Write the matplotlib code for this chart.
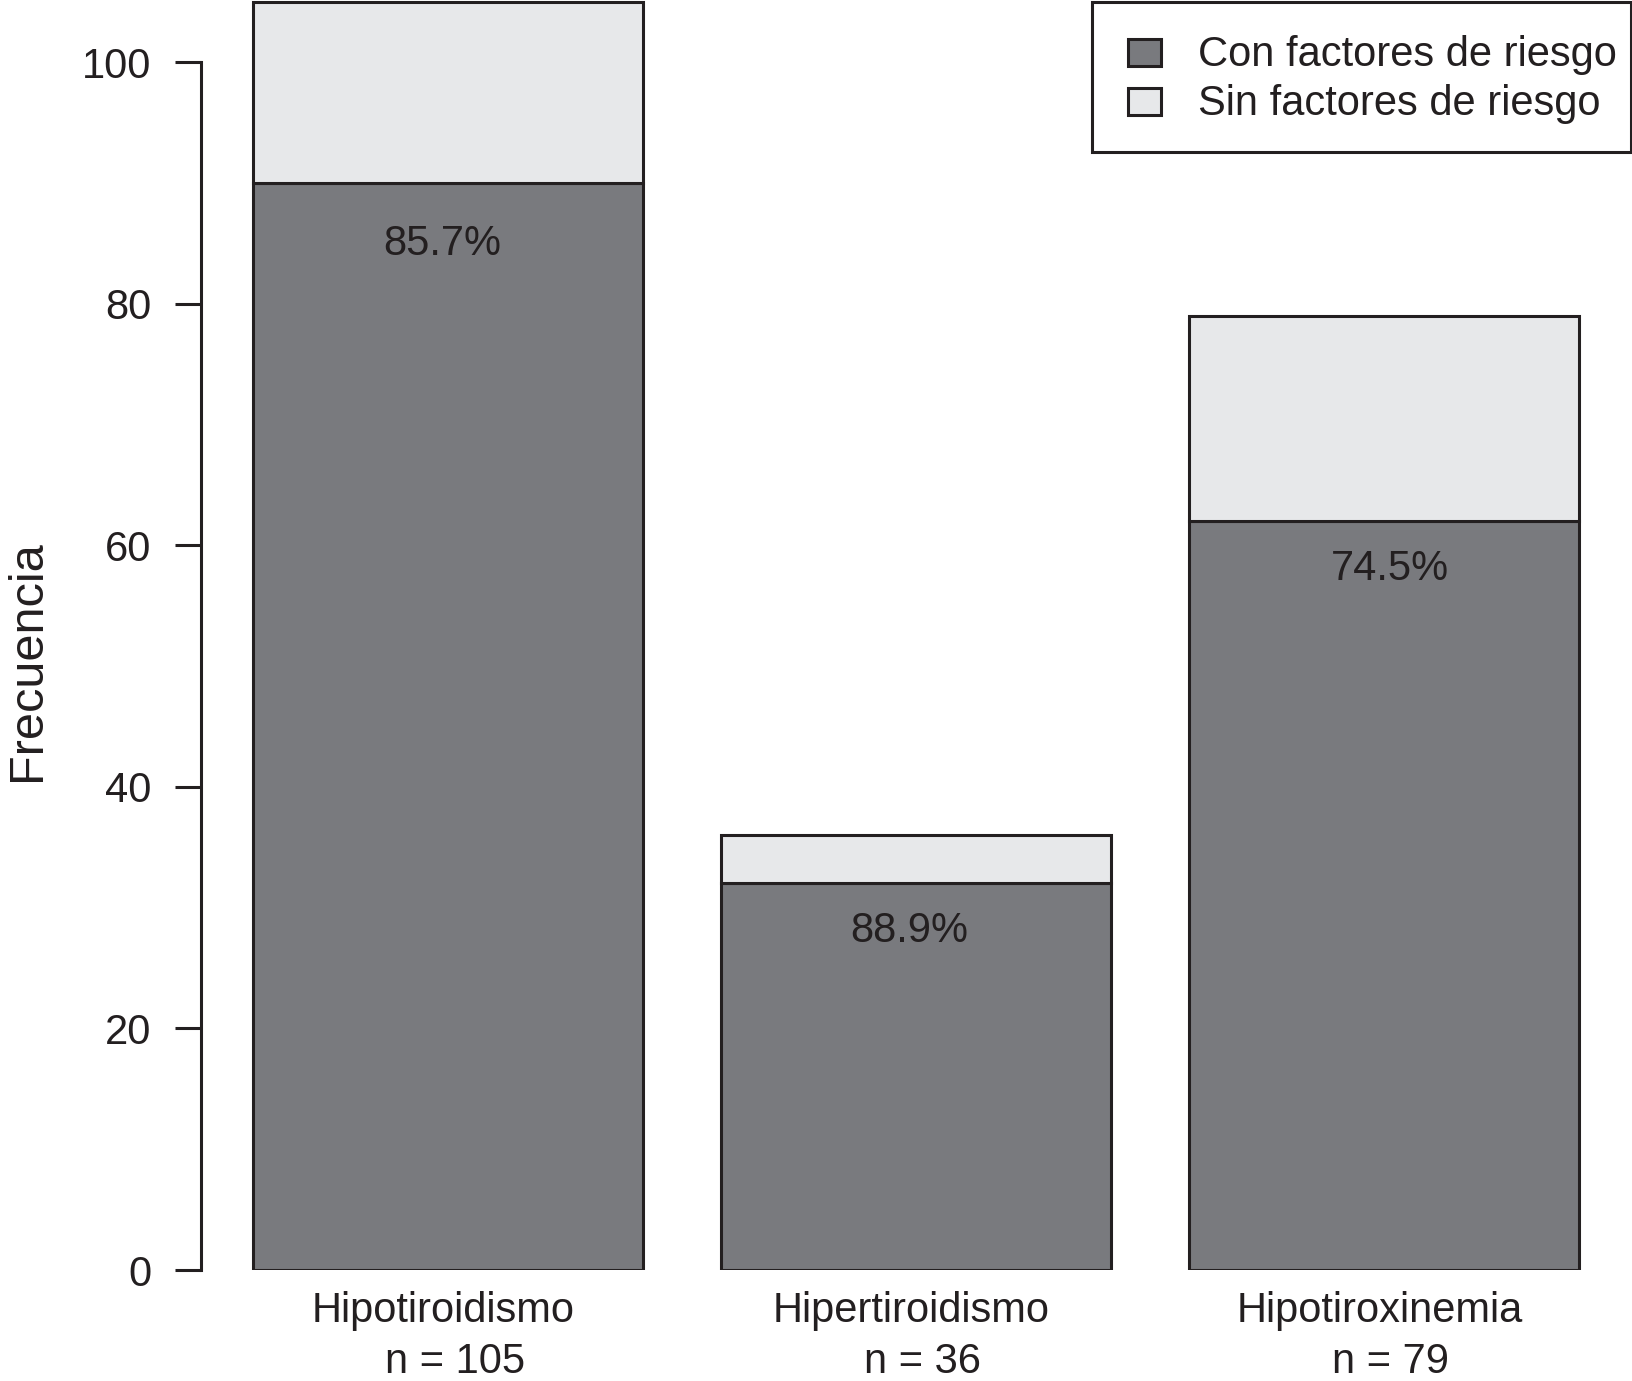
import matplotlib
matplotlib.use("Agg")
import matplotlib.pyplot as plt
from matplotlib.patches import Rectangle
import numpy as np

# ---- data ----
categories = ["Hipotiroidismo", "Hipertiroidismo", "Hipotiroxinemia"]
n_total = [105, 36, 79]
con_factores = [90, 32, 62]
sin_factores = [15, 4, 17]
pct_labels = ["85.7%", "88.9%", "74.5%"]
series_names = ["Con factores de riesgo", "Sin factores de riesgo"]
yticks = [0, 20, 40, 60, 80, 100]

# ---- style ----
DARK = "#797a7e"
LIGHT = "#e7e8ea"
INK = "#231f20"
FS = 30
plt.rcParams["font.family"] = ["Liberation Sans", "DejaVu Sans"]

W, H = 1633, 1381
PT = 72 / 100  # points per pixel at dpi 100
fig = plt.figure(figsize=(W / 100, H / 100), dpi=100)
ax = fig.add_axes([0, 111 / H, 1, 1270 / H])


def fx(px):
    return px / W


def fy(py):
    return 1 - py / H


# R barplot geometry: width 1, space 0.2
width = 1.0
space = 0.2
centers = np.array([space + width / 2 + i * (width + space) for i in range(len(categories))])

ax.bar(centers, con_factores, width=width, color=DARK, edgecolor=INK, linewidth=2.2)
ax.bar(centers, sin_factores, width=width, bottom=con_factores, color=LIGHT,
       edgecolor=INK, linewidth=2.2)

# pixel mapping: x=0 at px 175, 390 px per unit
ax.set_xlim((0 - 175) / 390, (W - 175) / 390)
ax.set_ylim(0, 1270 / 12.08)

# percentage labels inside dark segments
label_dy = [5.05, 3.95, 3.95]
label_dx = [-0.016, -0.017, 0.016]
for c, v, lab, dx, dy in zip(centers, con_factores, pct_labels, label_dx, label_dy):
    ax.text(c + dx, v - dy, lab, ha="center", va="center", fontsize=FS, color=INK)

# spines
for s in ["top", "right", "bottom"]:
    ax.spines[s].set_visible(False)
ax.spines["left"].set_position(("data", (201 - 175) / 390))
ax.spines["left"].set_bounds(0, 100)
ax.spines["left"].set_linewidth(2.2)
ax.spines["left"].set_color(INK)
ax.set_yticks(yticks)
ax.set_yticklabels([str(t) for t in yticks])
ax.tick_params(axis="y", length=18.7, width=2.2, pad=17, labelsize=FS,
               color=INK, labelcolor=INK)

# category labels (two lines, as in the original R mtext)
ax.set_xticks([])
for c, name, n in zip(centers, categories, n_total):
    ax.annotate(name, xy=(c, 0), xycoords="data", xytext=(-4.7 * PT, -52 * PT),
                textcoords="offset points", ha="center", va="baseline",
                fontsize=FS, color=INK, annotation_clip=False)
    ax.annotate(f"n = {n}", xy=(c, 0), xycoords="data", xytext=(6.8 * PT, -103 * PT),
                textcoords="offset points", ha="center", va="baseline",
                fontsize=FS, color=INK, annotation_clip=False)
ax.patch.set_visible(False)

fig.text(fx(28), fy(661), "Frecuencia", rotation=90, ha="center", va="center",
         fontsize=35, color=INK)

# legend (boxed, R style)
fig.add_artist(Rectangle((fx(1092), fy(152)), fx(1631) - fx(1092), fy(2) - fy(152),
                         transform=fig.transFigure, facecolor="white", edgecolor=INK,
                         linewidth=2.2, zorder=5))
legend_colors = [DARK, LIGHT]
row_baseline = [66, 115]
for name, col, base in zip(series_names, legend_colors, row_baseline):
    fig.add_artist(Rectangle((fx(1128), fy(base)), fx(1161) - fx(1128), fy(base - 27) - fy(base),
                             transform=fig.transFigure, facecolor=col, edgecolor=INK,
                             linewidth=2.2, zorder=6))
    fig.text(fx(1198), fy(base), name, ha="left", va="baseline", fontsize=FS,
             color=INK, zorder=6)

fig.savefig("out.png", dpi=100)
